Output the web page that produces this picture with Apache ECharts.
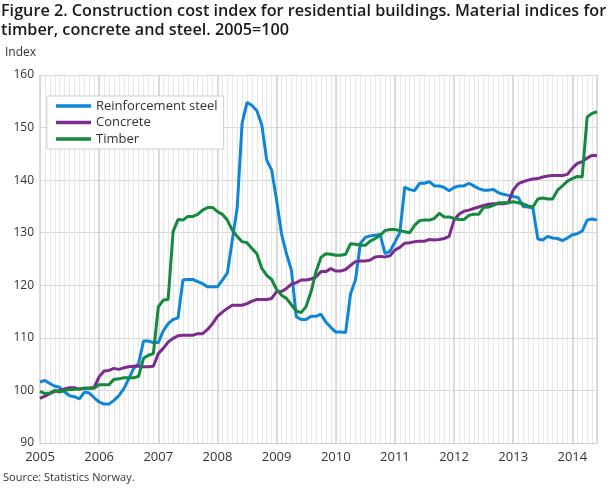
<!DOCTYPE html>
<html>
<head>
<meta charset="utf-8">
<script src="https://cdn.jsdelivr.net/npm/echarts@6/dist/echarts.min.js"></script>
<style>html,body{margin:0;padding:0;background:#fff}#c{width:610px;height:488px}</style>
</head>
<body>
<div id="c"></div>
<script>
var startYear = 2005;
var yearLabels = ['2005','2006','2007','2008','2009','2010','2011','2012','2013','2014'];
var yTicks = [90,100,110,120,130,140,150,160];
var seriesNames = ['Reinforcement steel','Concrete','Timber'];

var steel = [101.6,101.9,101.3,100.8,100.6,99.7,99.0,98.8,98.4,99.7,99.5,98.6,
97.8,97.4,97.4,98.1,99.0,100.3,102.2,104.2,105.1,109.4,109.4,109.1,
109.1,111.3,112.7,113.5,113.8,121.0,121.1,121.1,120.7,120.3,119.7,119.7,
119.7,121.0,122.3,128.5,134.7,150.8,154.8,154.2,153.2,150.5,143.8,141.9,
136.2,129.8,126.0,122.9,114.0,113.5,113.5,114.1,114.1,114.5,113.0,112.0,
111.1,111.1,111.0,118.4,121.0,128.0,129.1,129.4,129.5,129.7,126.0,126.5,
128.2,130.0,138.7,138.2,138.0,139.4,139.4,139.7,138.9,138.9,138.6,138.0,
138.6,138.9,138.9,139.4,138.9,138.4,138.1,138.1,138.2,137.6,137.3,137.1,
136.9,136.7,135.0,134.9,134.7,128.8,128.6,129.3,129.0,128.9,128.5,129.0,
129.6,129.8,130.3,132.4,132.6,132.4];

var concrete = [98.5,98.9,99.4,99.8,100.0,100.3,100.5,100.5,100.2,100.4,100.4,100.6,
102.6,103.7,103.8,104.2,104.0,104.3,104.5,104.6,104.6,104.5,104.5,104.6,
107.0,108.0,109.2,109.9,110.4,110.5,110.5,110.5,110.8,110.8,111.6,112.7,
114.1,114.9,115.6,116.2,116.2,116.2,116.5,117.0,117.3,117.3,117.3,117.5,
118.8,118.8,119.4,120.2,120.5,121.0,121.0,121.2,121.6,122.6,122.6,123.2,
122.7,122.7,123.0,123.8,124.5,124.6,124.6,124.8,125.4,125.5,125.4,125.6,
126.7,127.2,128.0,128.1,128.3,128.4,128.4,128.7,128.6,128.7,128.9,129.3,
132.4,133.5,134.1,134.3,134.6,134.9,135.2,135.4,135.5,135.5,135.5,135.7,
138.1,139.3,139.7,140.0,140.2,140.3,140.6,140.8,140.9,140.9,140.9,141.1,
142.3,143.2,143.5,144.2,144.7,144.7];

var timber = [99.8,99.4,99.5,100.0,99.7,100.0,100.2,100.2,100.3,100.4,100.4,100.4,
101.1,101.1,101.1,102.1,102.2,102.4,102.4,102.4,102.7,106.1,106.7,107.0,
115.9,117.2,117.3,130.2,132.5,132.4,133.1,133.1,133.5,134.3,134.8,134.8,
134.0,133.5,132.4,130.5,129.3,128.3,128.1,127.0,126.0,123.2,121.9,121.1,
119.2,118.1,117.5,116.3,115.1,114.8,116.0,118.8,122.6,125.3,126.0,125.9,
125.7,125.7,125.9,127.9,127.8,127.6,127.6,128.4,128.9,129.5,130.4,130.6,
130.6,130.4,130.2,130.0,131.4,132.3,132.4,132.4,132.7,133.7,133.0,133.0,
132.7,132.5,132.5,133.3,133.5,133.5,134.8,134.9,135.2,135.7,135.7,135.7,
135.9,135.7,135.5,135.1,134.9,136.4,136.6,136.4,136.4,138.1,138.9,139.8,
140.3,140.7,140.6,152.0,152.7,153.0];

var colors = ['#0f85d8','#7d2b8e','#15893d'];
var lastIdx = steel.length - 1;
function pairs(arr){ return arr.map(function(v,i){ return [i, v]; }); }
var font = '"Open Sans", "Noto Sans", sans-serif';

var chart = echarts.init(document.getElementById('c'), null, {renderer:'canvas'});
chart.setOption({
  animation: false,
  backgroundColor: '#fff',
  title: [
    {text: 'Figure 2. Construction cost index for residential buildings. Material indices for\ntimber, concrete and steel. 2005=100',
     left: 1, top: 2, padding: 0,
     textStyle: {fontFamily: font, fontSize: 16.2, fontWeight: 600, color: '#1a1a1a', lineHeight: 19}},
    {text: 'Index', left: 5, top: 47, padding: 0,
     textStyle: {fontFamily: font, fontSize: 12, fontWeight: 'normal', color: '#333'}},
    {text: 'Source: Statistics Norway.', left: 3, top: 472, padding: 0,
     textStyle: {fontFamily: font, fontSize: 11, fontWeight: 'normal', color: '#333'}}
  ],
  legend: {
    orient: 'vertical', left: 47, top: 96,
    padding: [3, 6, 3, 9], itemGap: 2.5,
    itemWidth: 35, itemHeight: 3.5, icon: 'rect',
    borderColor: '#cfcfcf', borderWidth: 1, backgroundColor: '#fff',
    textStyle: {fontFamily: font, fontSize: 13, color: '#333', lineHeight: 14},
    data: seriesNames
  },
  grid: {left: 40, right: 13, top: 75, bottom: 45, containLabel: false},
  xAxis: [
    {type: 'value', position: 'bottom', offset: 0, min: 0, max: lastIdx, interval: 1,
     axisLine: {show: false}, axisTick: {show: false}, axisLabel: {show: false},
     splitLine: {show: true, lineStyle: {color: '#e6e6e6', width: 1}}},
    {type: 'value', position: 'bottom', offset: 0, min: 0, max: lastIdx, interval: 12,
     axisLine: {show: true, onZero: false, lineStyle: {color: '#cfcfcf'}}, axisTick: {show: false},
     axisLabel: {fontFamily: font, fontSize: 13, color: '#333', margin: 8,
       formatter: function(v){ return v % 12 === 0 ? yearLabels[v/12] : ''; }},
     splitLine: {show: true, lineStyle: {color: '#d2d2d2', width: 1.5}}}
  ],
  yAxis: {type: 'value', min: yTicks[0], max: yTicks[yTicks.length-1], interval: 10,
    axisLine: {show: false}, axisTick: {show: false},
    axisLabel: {fontFamily: font, fontSize: 12, color: '#333', margin: 6},
    splitLine: {lineStyle: {color: '#d6d6d6', width: 1}}},
  series: [
    {name: seriesNames[0], type: 'line', xAxisIndex: 1, data: pairs(steel), showSymbol: false,
     lineStyle: {width: 3, color: colors[0]}, itemStyle: {color: colors[0]}},
    {name: seriesNames[1], type: 'line', xAxisIndex: 1, data: pairs(concrete), showSymbol: false,
     lineStyle: {width: 3, color: colors[1]}, itemStyle: {color: colors[1]}},
    {name: seriesNames[2], type: 'line', xAxisIndex: 1, data: pairs(timber), showSymbol: false,
     lineStyle: {width: 3, color: colors[2]}, itemStyle: {color: colors[2]}}
  ]
});
</script>
</body>
</html>
